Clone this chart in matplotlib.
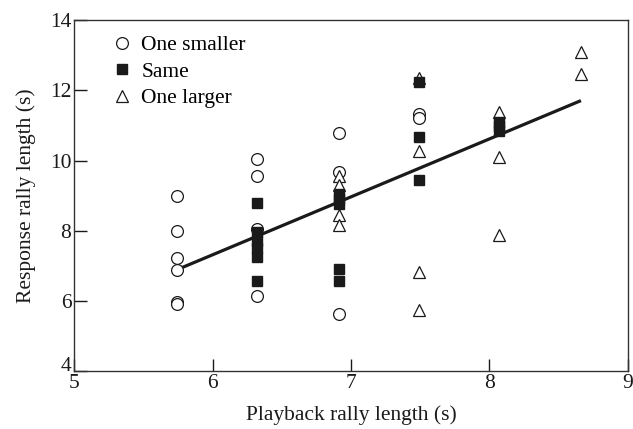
import matplotlib
matplotlib.use('Agg')
import matplotlib.pyplot as plt
import matplotlib.transforms as mtransforms

plt.rcParams['font.family'] = ['Liberation Serif', 'DejaVu Serif']

# Datos
smaller_x = [5.74]*6 + [6.32]*4 + [6.91]*3 + [7.49]*2
smaller_y = [9.0, 8.0, 7.23, 6.88, 5.98, 5.9,
             10.03, 9.55, 8.05, 6.15,
             10.79, 9.68, 5.62,
             11.32, 11.22]

same_x = [6.32]*6 + [6.91]*5 + [7.49]*3 + [8.07]*3
same_y = [8.8, 7.95, 7.72, 7.5, 7.25, 6.58,
          9.05, 8.9, 8.75, 6.9, 6.57,
          12.24, 10.68, 9.44,
          11.1, 10.97, 10.83]

larger_x = [6.91]*4 + [7.49]*4 + [8.07]*3 + [8.66]*2
larger_y = [9.55, 9.3, 8.45, 8.15,
            12.34, 10.27, 6.83, 5.74,
            11.39, 10.1, 7.87,
            13.1, 12.48]

fit_x = [5.78, 8.65]
fit_y = [6.95, 11.69]

fig = plt.figure(figsize=(6.33, 4.29), dpi=100)
ax = fig.add_axes([0.117, 0.135, 0.875, 0.818])

ax.plot(fit_x, fit_y, color='#1a1a1a', lw=2.3, zorder=2)
ax.plot(smaller_x, smaller_y, 'o', ms=8.5, mfc='white', mec='#1a1a1a',
        mew=0.9, ls='none', label='One smaller', zorder=3)
ax.plot(same_x, same_y, 's', ms=7.5, mfc='#1a1a1a', mec='#1a1a1a',
        ls='none', label='Same', zorder=4)
ax.plot(larger_x, larger_y, '^', ms=8.5, mfc='white', mec='#1a1a1a',
        mew=0.9, ls='none', label='One larger', zorder=3)

ax.set_xlim(5, 9)
ax.set_ylim(4, 14)
ax.set_xticks([5, 6, 7, 8, 9])
ax.set_yticks([4, 6, 8, 10, 12, 14])
ax.tick_params(direction='in', length=9, width=1, labelsize=15.5,
               colors='#1a1a1a', pad=2)
for s in ax.spines.values():
    s.set_linewidth(1.0)
    s.set_color('#333333')

# el "4" queda un poco por encima del "5" en la esquina
fig.canvas.draw()
lab4 = ax.get_yticklabels()[0]
lab4.set_transform(lab4.get_transform() +
                   mtransforms.ScaledTranslation(0, 5/72, fig.dpi_scale_trans))

ax.set_xlabel('Playback rally length (s)', fontsize=15.5, color='#1a1a1a', labelpad=9)
ax.set_ylabel('Response rally length (s)', fontsize=15.5, color='#1a1a1a', labelpad=10)

ax.legend(loc='upper left', frameon=False, fontsize=15.5, handletextpad=0.4,
          labelspacing=0.3, borderaxespad=0.3, handlelength=1.0,
          bbox_to_anchor=(0.04, 1.0))

fig.savefig('out.png', dpi=100)
